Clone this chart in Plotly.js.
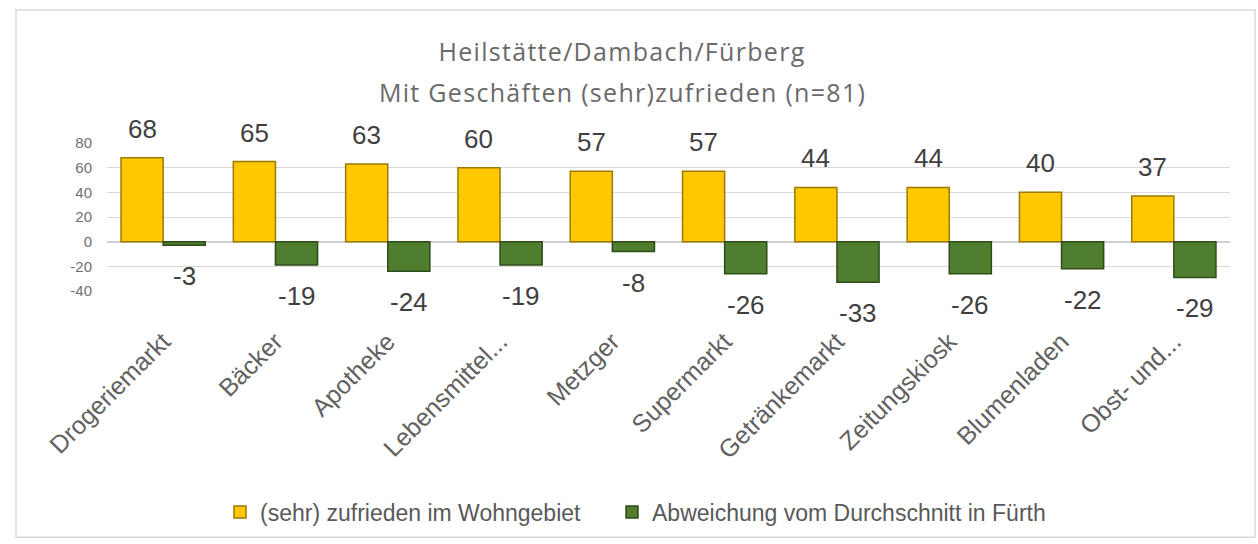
<!DOCTYPE html>
<html><head><meta charset="utf-8">
<script src="https://cdn.plot.ly/plotly-3.0.1.min.js"></script>
<style>html,body{margin:0;padding:0;background:#fff;}#chart{width:1258px;height:544px;}
.gtitle{letter-spacing:1.3px;}
g.annotation[data-index="20"] text{letter-spacing:1.3px;}
</style>
</head><body><div id="chart"></div>
<script>
const categories = ["Drogeriemarkt","Bäcker","Apotheke","Lebensmittel...","Metzger","Supermarkt","Getränkemarkt","Zeitungskiosk","Blumenladen","Obst- und..."];
const zufrieden = [68,65,63,60,57,57,44,44,40,37];
const abweichung = [-3,-19,-24,-19,-8,-26,-33,-26,-22,-29];
const seriesNames = ["(sehr) zufrieden im Wohngebiet","Abweichung vom Durchschnitt in Fürth"];
const yTickVals = [-40,-20,0,20,40,60,80];
const yTickText = ["-40","-20","0","20","40","60","80"];
const titleLine1 = "Heilstätte/Dambach/Fürberg";
const titleLine2 = "Mit Geschäften (sehr)zufrieden (n=81)";

const W = 1258, H = 544;
const M = {l:107, r:28, t:143, b:252};
const plotW = W - M.l - M.r, plotH = H - M.t - M.b;
const px2x = px => (px - M.l)/plotW;
const py2y = py => (H - M.b - py)/plotH;

const bargap = 0.25;
const catW = plotW / categories.length;
const barW = catW*(1-bargap)/2;

const labelFont = {family:"Liberation Sans, Arial, sans-serif", size:26, color:"#404040"};
const annotations = [];
categories.forEach((c,i)=>{
  annotations.push({x:c, y:zufrieden[i], xref:'x', yref:'y', text:String(zufrieden[i]), showarrow:false,
    xshift:-barW/2, yshift:29, font:labelFont});
  annotations.push({x:c, y:abweichung[i], xref:'x', yref:'y', text:String(abweichung[i]), showarrow:false,
    xshift:barW/2, yshift:-31, font:labelFont});
});
annotations.push({xref:'paper', yref:'paper', x:px2x(622), y:py2y(92), text:titleLine2, showarrow:false,
  xanchor:'center', yanchor:'middle', font:{family:"Open Sans, sans-serif", size:25, color:"#6a6a6a"}});

const traces = [
  {type:'bar', name:seriesNames[0], x:categories, y:zufrieden, legend:'legend',
   marker:{color:'#FFC800', line:{color:'#9C7A00', width:1.5}}},
  {type:'bar', name:seriesNames[1], x:categories, y:abweichung, legend:'legend2',
   marker:{color:'#4F7F2E', line:{color:'#2E4C1A', width:1.5}}}
];

const legendFont = {family:"Liberation Sans, Arial, sans-serif", size:23, color:"#595959"};
const layout = {
  width:W, height:H, margin:M, paper_bgcolor:'#fff', plot_bgcolor:'#fff',
  barmode:'group', bargap:bargap, bargroupgap:0,
  showlegend:true,
  title:{text:titleLine1, x:622/W, xanchor:'center', y:1-52/H, yanchor:'middle',
    font:{family:"Open Sans, sans-serif", size:25, color:"#6a6a6a"}},
  xaxis:{type:'category', tickangle:-45, showgrid:false, zeroline:false, showline:false, ticks:'',
    ticklabelstandoff:30, tickfont:{family:"Liberation Sans, Arial, sans-serif", size:25, color:"#616161"}},
  yaxis:{range:[-40,80], tickmode:'array', tickvals:yTickVals, ticktext:yTickText,
    showgrid:true, gridcolor:'#d9d9d9', gridwidth:1,
    zeroline:true, zerolinecolor:'#d0d0d0', zerolinewidth:1.5, showline:false, ticks:'',
    ticklabelstandoff:14, tickfont:{family:"Liberation Sans, Arial, sans-serif", size:15, color:"#6f6f6f"}},
  legend:{orientation:'h', x:px2x(220), xanchor:'left', y:py2y(512), yanchor:'middle',
    font:legendFont, bgcolor:'rgba(0,0,0,0)'},
  legend2:{orientation:'h', x:px2x(612), xanchor:'left', y:py2y(512), yanchor:'middle',
    font:legendFont, bgcolor:'rgba(0,0,0,0)'},
  annotations:annotations,
  shapes:[{type:'rect', xref:'paper', yref:'paper', x0:px2x(16), x1:px2x(1255), y0:py2y(540), y1:py2y(9),
    line:{color:'#d9d9d9', width:1.5}, fillcolor:'rgba(0,0,0,0)', layer:'below'}]
};
Plotly.newPlot('chart', traces, layout, {displayModeBar:false});
</script></body></html>
